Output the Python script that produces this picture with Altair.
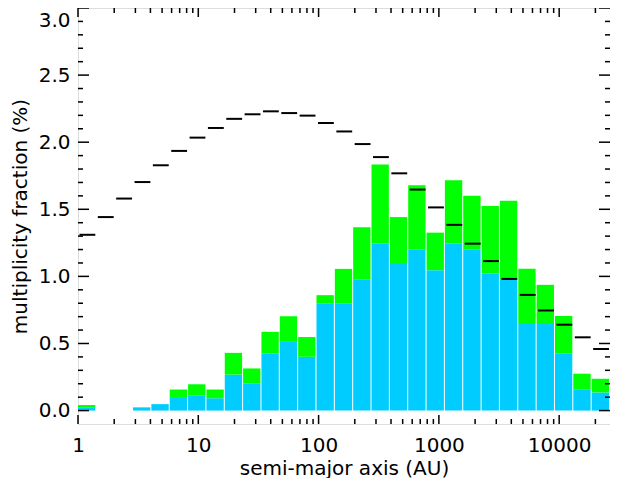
import altair as alt
import pandas as pd

# bin edges in AU (log-spaced bins)
bin_lo = [1.0, 1.420, 2.018, 2.868, 4.074, 5.788, 8.222, 11.68, 16.60, 23.58,
          33.50, 47.59, 67.61, 96.05, 136.5, 193.9, 275.4, 391.3, 555.9, 789.7,
          1122, 1594, 2265, 3217, 4571, 6494, 9226, 13108, 18621]
bin_hi = [1.420, 2.018, 2.868, 4.074, 5.788, 8.222, 11.68, 16.60, 23.58, 33.50,
          47.59, 67.61, 96.05, 136.5, 193.9, 275.4, 391.3, 555.9, 789.7, 1122,
          1594, 2265, 3217, 4571, 6494, 9226, 13108, 18621, 26455]

# cyan part of each bar (%)
cyan_vals = [0.022, 0.0, 0.0, 0.024, 0.048, 0.094, 0.114, 0.092, 0.268, 0.203,
             0.425, 0.512, 0.401, 0.800, 0.800, 0.978, 1.246, 1.092, 1.203, 1.046,
             1.246, 1.203, 1.022, 0.978, 0.645, 0.645, 0.425, 0.159, 0.135]
# total bar height, cyan + green (%)
total_vals = [0.041, 0.0, 0.0, 0.024, 0.048, 0.157, 0.196, 0.157, 0.430, 0.314,
              0.587, 0.703, 0.548, 0.860, 1.056, 1.367, 1.833, 1.442, 1.679, 1.326,
              1.717, 1.601, 1.524, 1.563, 1.056, 0.937, 0.705, 0.275, 0.237]
# model (black dashes) per bin (%)
model_vals = [1.310, 1.442, 1.580, 1.703, 1.828, 1.935, 2.034, 2.106, 2.174, 2.208,
              2.230, 2.217, 2.198, 2.143, 2.080, 1.986, 1.889, 1.768, 1.647, 1.514,
              1.384, 1.244, 1.114, 0.981, 0.862, 0.746, 0.640, 0.546, 0.459]

x_major = [1, 10, 100, 1000, 10000]
x_minor = [2, 3, 4, 5, 6, 7, 8, 9, 20, 30, 40, 50, 60, 70, 80, 90,
           200, 300, 400, 500, 600, 700, 800, 900, 2000, 3000, 4000, 5000,
           6000, 7000, 8000, 9000, 20000]
y_major = [0.0, 0.5, 1.0, 1.5, 2.0, 2.5, 3.0]
y_minor = [0.1, 0.2, 0.3, 0.4, 0.6, 0.7, 0.8, 0.9, 1.1, 1.2, 1.3, 1.4,
           1.6, 1.7, 1.8, 1.9, 2.1, 2.2, 2.3, 2.4, 2.6, 2.7, 2.8, 2.9]

X_DOMAIN = [1, 26455]
Y_DOMAIN = [-0.1, 3.0]
W, H = 532, 416
FONT = "DejaVu Sans"

df = pd.DataFrame({"lo": bin_lo, "hi": bin_hi, "cyan": cyan_vals,
                   "total": total_vals, "model": model_vals, "zero": 0.0})

xscale = alt.Scale(type="log", domain=X_DOMAIN, nice=False)
yscale = alt.Scale(domain=Y_DOMAIN, nice=False, zero=False)

xaxis = alt.Axis(values=x_major, format="d", ticks=False, domain=False, grid=False,
                 labelFlush=False, labelOverlap=False, labelFont=FONT,
                 labelFontSize=20, labelColor="black", labelPadding=11,
                 title="semi-major axis (AU)", titleFont=FONT, titleFontSize=20,
                 titleFontWeight="normal", titleColor="black", titlePadding=3)
yaxis = alt.Axis(values=y_major, format=".1f", ticks=False, domain=False, grid=False,
                 labelFont=FONT, labelFontSize=20, labelColor="black", labelPadding=8,
                 labelBaseline=alt.condition("datum.value >= 3", alt.value("top"),
                                             alt.value("middle")),
                 labelOffset=alt.condition("datum.value >= 3", alt.value(2),
                                           alt.value(0)),
                 title="multiplicity fraction (%)", titleFont=FONT, titleFontSize=20,
                 titleFontWeight="normal", titleColor="black", titlePadding=8)


def X(field):
    return alt.X(field, scale=xscale, axis=xaxis)


def Y(field):
    return alt.Y(field, scale=yscale, axis=yaxis)


base = alt.Chart(df)

cyan_bars = base.mark_rect(color="#00CCFF", x2Offset=-1).encode(
    x=X("lo:Q"), x2="hi:Q", y=Y("cyan:Q"), y2="zero:Q",
)
green_bars = base.mark_rect(color="#00FF00", x2Offset=-1).encode(
    x=X("lo:Q"), x2="hi:Q", y=Y("total:Q"), y2="cyan:Q",
)
dashes = base.mark_rule(color="black", strokeWidth=2, xOffset=1.5, x2Offset=-1).encode(
    x=X("lo:Q"), x2="hi:Q", y=Y("model:Q"),
)

ymaj = pd.DataFrame({"v": y_major})
ymin = pd.DataFrame({"v": y_minor})
xmaj = pd.DataFrame({"v": x_major})
xmin = pd.DataFrame({"v": x_minor})


def yticks(d, length):
    left = alt.Chart(d).mark_rule(color="black", strokeWidth=1.5).encode(
        y=Y("v:Q"), x=alt.value(0), x2=alt.value(length))
    right = alt.Chart(d).mark_rule(color="black", strokeWidth=1.5).encode(
        y=Y("v:Q"), x=alt.value(W - length), x2=alt.value(W))
    return [left, right]


def xticks(d, length):
    bottom = alt.Chart(d).mark_rule(color="black", strokeWidth=1.5).encode(
        x=X("v:Q"), y=alt.value(H), y2=alt.value(H - length))
    top = alt.Chart(d).mark_rule(color="black", strokeWidth=1.5).encode(
        x=X("v:Q"), y=alt.value(0), y2=alt.value(length))
    return [bottom, top]


layers = [cyan_bars, green_bars, dashes] + yticks(ymaj, 11) + yticks(ymin, 5) \
    + xticks(xmaj, 9) + xticks(xmin, 5)

chart = alt.layer(*layers).properties(
    width=W, height=H,
    autosize=alt.AutoSizeParams(type="none"),
    padding={"left": 70, "top": 0, "right": 0, "bottom": 54},
).configure_view(stroke="black", strokeWidth=2).configure(background="white")

chart.save("out.html", embed_options={"renderer": "svg", "actions": False})
